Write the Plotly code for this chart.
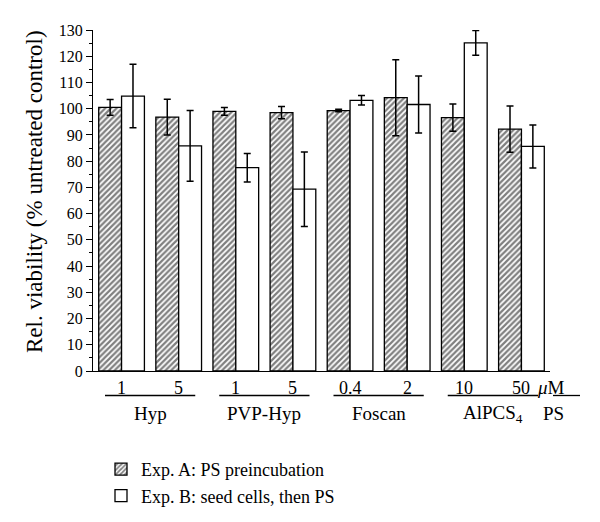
import plotly.graph_objects as go

# ---- data ----
positions = [0, 1, 2, 3, 4, 5, 6, 7]
dose_labels = ["1", "5", "1", "5", "0.4", "2", "10", "50"]
group_labels = ["Hyp", "PVP-Hyp", "Foscan", "AlPCS<sub>4</sub>"]
unit_label = "<i>μ</i>M"
ps_label = "PS"

expA = [100.5, 96.8, 99.0, 98.5, 99.3, 104.2, 96.6, 92.2]
expA_err = [3.0, 6.8, 1.5, 2.3, 0.5, 14.5, 5.2, 8.8]
expB = [104.8, 85.8, 77.5, 69.3, 103.2, 101.6, 125.1, 85.6]
expB_err = [12.1, 13.5, 5.4, 14.2, 1.8, 10.9, 4.7, 8.2]

nameA = "Exp. A: PS preincubation"
nameB = "Exp. B: seed cells, then PS"

FONT = "Liberation Serif, Times New Roman, serif"

fig = go.Figure()
fig.add_trace(go.Bar(
    x=positions, y=expA, name=nameA,
    marker=dict(color="white",
                line=dict(color="black", width=1.3),
                pattern=dict(shape="/", fgcolor="black", bgcolor="white",
                             size=4, solidity=0.55)),
    error_y=dict(type="data", array=expA_err, visible=True,
                 color="black", thickness=1.5, width=3.5),
))
fig.add_trace(go.Bar(
    x=positions, y=expB, name=nameB,
    marker=dict(color="white", line=dict(color="black", width=1.3)),
    error_y=dict(type="data", array=expB_err, visible=True,
                 color="black", thickness=1.5, width=3.5),
))

# layout geometry (plot area 93..550 x, 30..370 y)
L, R, T, B = 93, 50, 30, 151
W, H = 600, 522
ph = H - T - B
pw = W - L - R

def ypap(py):
    return (H - B - py) / ph

def xpap(px):
    return (px - L) / pw

annotations = []
shapes = []
for p, lab in zip(positions, dose_labels):
    annotations.append(dict(x=p, y=ypap(388), xref="x", yref="paper",
                            text=lab, showarrow=False, yanchor="middle",
                            font=dict(family=FONT, size=18)))
for g, lab in enumerate(group_labels):
    x0 = positions[2 * g]
    x1 = positions[2 * g + 1]
    shapes.append(dict(type="line", xref="x", yref="paper",
                       x0=x0 - 0.29, x1=x1 + 0.29,
                       y0=ypap(395.5), y1=ypap(395.5),
                       line=dict(color="black", width=1.3)))
    annotations.append(dict(x=(x0 + x1) / 2, y=ypap(414), xref="x", yref="paper",
                            text=lab, showarrow=False, yanchor="middle",
                            font=dict(family=FONT, size=19)))
annotations.append(dict(x=xpap(567), y=ypap(387), xref="paper", yref="paper",
                        text=unit_label, showarrow=False, yanchor="middle",
                        font=dict(family=FONT, size=19)))
shapes.append(dict(type="line", xref="paper", yref="paper",
                   x0=xpap(553), x1=xpap(580),
                   y0=ypap(395.5), y1=ypap(395.5),
                   line=dict(color="black", width=1.3)))
annotations.append(dict(x=xpap(566), y=ypap(414), xref="paper", yref="paper",
                        text=ps_label, showarrow=False, yanchor="middle",
                        font=dict(family=FONT, size=19)))
annotations.append(dict(x=xpap(34), y=ypap(192), xref="paper", yref="paper",
                        text="Rel. viability (% untreated control)",
                        textangle=-90, showarrow=False,
                        xanchor="center", yanchor="middle",
                        font=dict(family=FONT, size=23)))

fig.update_layout(
    width=W, height=H,
    margin=dict(l=L, r=R, t=T, b=B, autoexpand=False),
    paper_bgcolor="white", plot_bgcolor="white",
    font=dict(family=FONT, size=16, color="black"),
    barmode="group", bargap=0.2, bargroupgap=0,
    showlegend=True,
    legend=dict(x=xpap(101), y=ypap(451), xanchor="left", yanchor="top",
                font=dict(family=FONT, size=18), bgcolor="rgba(0,0,0,0)",
                traceorder="normal", tracegroupgap=0),
    annotations=annotations,
    shapes=shapes,
)
fig.update_xaxes(range=[-0.5, 7.5], showticklabels=False, ticks="",
                 showline=True, linecolor="black", linewidth=1.3,
                 showgrid=False, zeroline=False)
fig.update_yaxes(range=[0, 130], dtick=10, tick0=0, ticks="outside",
                 ticklen=6, tickwidth=1.3, tickcolor="black",
                 showline=True, linecolor="black", linewidth=1.3,
                 showgrid=False, zeroline=False,
                 tickfont=dict(family=FONT, size=16),
                 minor=dict(dtick=5, ticks="outside", ticklen=3,
                            tickwidth=1.3, tickcolor="black", showgrid=False))

fig.write_html("out.html",
               config={"displayModeBar": False},
               post_script="document.body.style.margin='0px';")
